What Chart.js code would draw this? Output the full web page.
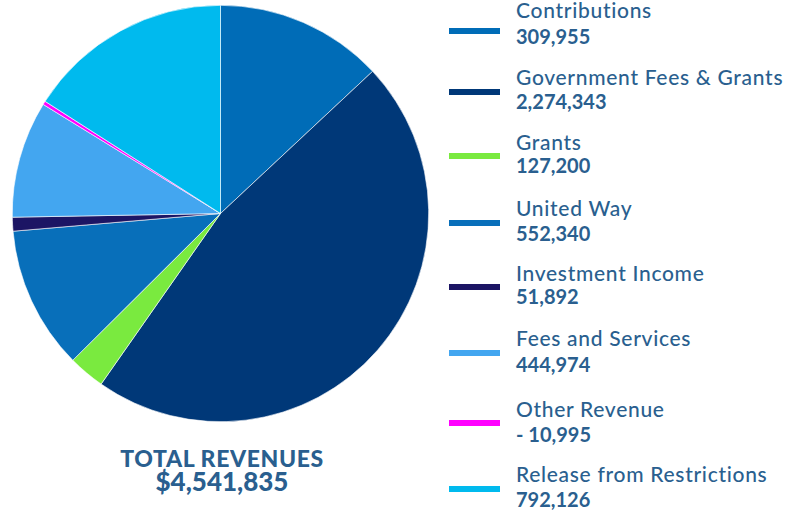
<!DOCTYPE html>
<html>
<head>
<meta charset="utf-8">
<script src="https://cdn.jsdelivr.net/npm/chart.js@4/dist/chart.umd.min.js"></script>
<style>
  html, body { margin: 0; padding: 0; background: #ffffff; }
  body { width: 794px; height: 512px; position: relative; overflow: hidden; font-family: Lato, "Open Sans", sans-serif; }
  #wrap { position: absolute; left: 12px; top: 5px; width: 417px; height: 417px; }
  .sw { position: absolute; left: 449px; width: 51px; height: 6px; }
  .nm { position: absolute; left: 516px; color: #2a5f8f; font-size: 21px; font-weight: 500; letter-spacing: 0.7px; white-space: nowrap; line-height: 24px; }
  .vl { position: absolute; left: 516px; color: #2a5f8f; font-size: 20px; font-weight: 700; white-space: nowrap; line-height: 24px; }
  #total { position: absolute; left: 102px; width: 240px; top: 446px; text-align: center; color: #2a5f8f; font-weight: 900; }
  #total .t1 { font-size: 23px; line-height: 24px; letter-spacing: 0.6px; }
  #total .t2 { font-size: 26px; line-height: 26px; margin-top: -2px; }
</style>
</head>
<body>
<div id="wrap"><canvas id="c"></canvas></div>
<div id="legend"></div>
<div id="total"><div class="t1">TOTAL REVENUES</div><div class="t2"></div></div>
<script>
// Legend categories and printed amounts
const categories = ["Contributions", "Government Fees & Grants", "Grants", "United Way", "Investment Income", "Fees and Services", "Other Revenue", "Release from Restrictions"];
const valueLabels = ["309,955", "2,274,343", "127,200", "552,340", "51,892", "444,974", "- 10,995", "792,126"];
// Slice sizes as drawn in the picture
const sliceValues = [592200, 2120150, 128560, 503900, 48700, 411540, 12600, 724170];
const colors = ["#006cb7", "#003878", "#7aea3f", "#086fba", "#1c1564", "#43a6f0", "#ff00ff", "#00baee"];
const totalLabel = "$4,541,835";

new Chart(document.getElementById('c'), {
  type: 'pie',
  data: {
    labels: categories,
    datasets: [{
      data: sliceValues,
      backgroundColor: colors,
      borderColor: '#ffffff',
      borderWidth: 0.6
    }]
  },
  options: {
    responsive: true,
    maintainAspectRatio: false,
    animation: false,
    layout: { padding: 0 },
    plugins: { legend: { display: false }, tooltip: { enabled: false } }
  }
});

const lg = document.getElementById('legend');
const swY = [31, 92, 156, 223, 287, 353, 423, 489];
const nameCapTop = [3, 70, 135, 201, 266, 331, 402, 467];
const valCapTop = [29, 94, 158, 226, 289, 357, 427, 492];
categories.forEach((c, i) => {
  const sw = document.createElement('div');
  sw.className = 'sw';
  sw.style.top = (swY[i] - 3) + 'px';
  sw.style.background = colors[i];
  const nm = document.createElement('div');
  nm.className = 'nm';
  nm.style.top = (nameCapTop[i] - 5) + 'px';
  nm.textContent = c;
  const vl = document.createElement('div');
  vl.className = 'vl';
  vl.style.top = (valCapTop[i] - 5) + 'px';
  vl.textContent = valueLabels[i];
  lg.appendChild(sw); lg.appendChild(nm); lg.appendChild(vl);
});
document.querySelector('#total .t2').textContent = totalLabel;
</script>
</body>
</html>
